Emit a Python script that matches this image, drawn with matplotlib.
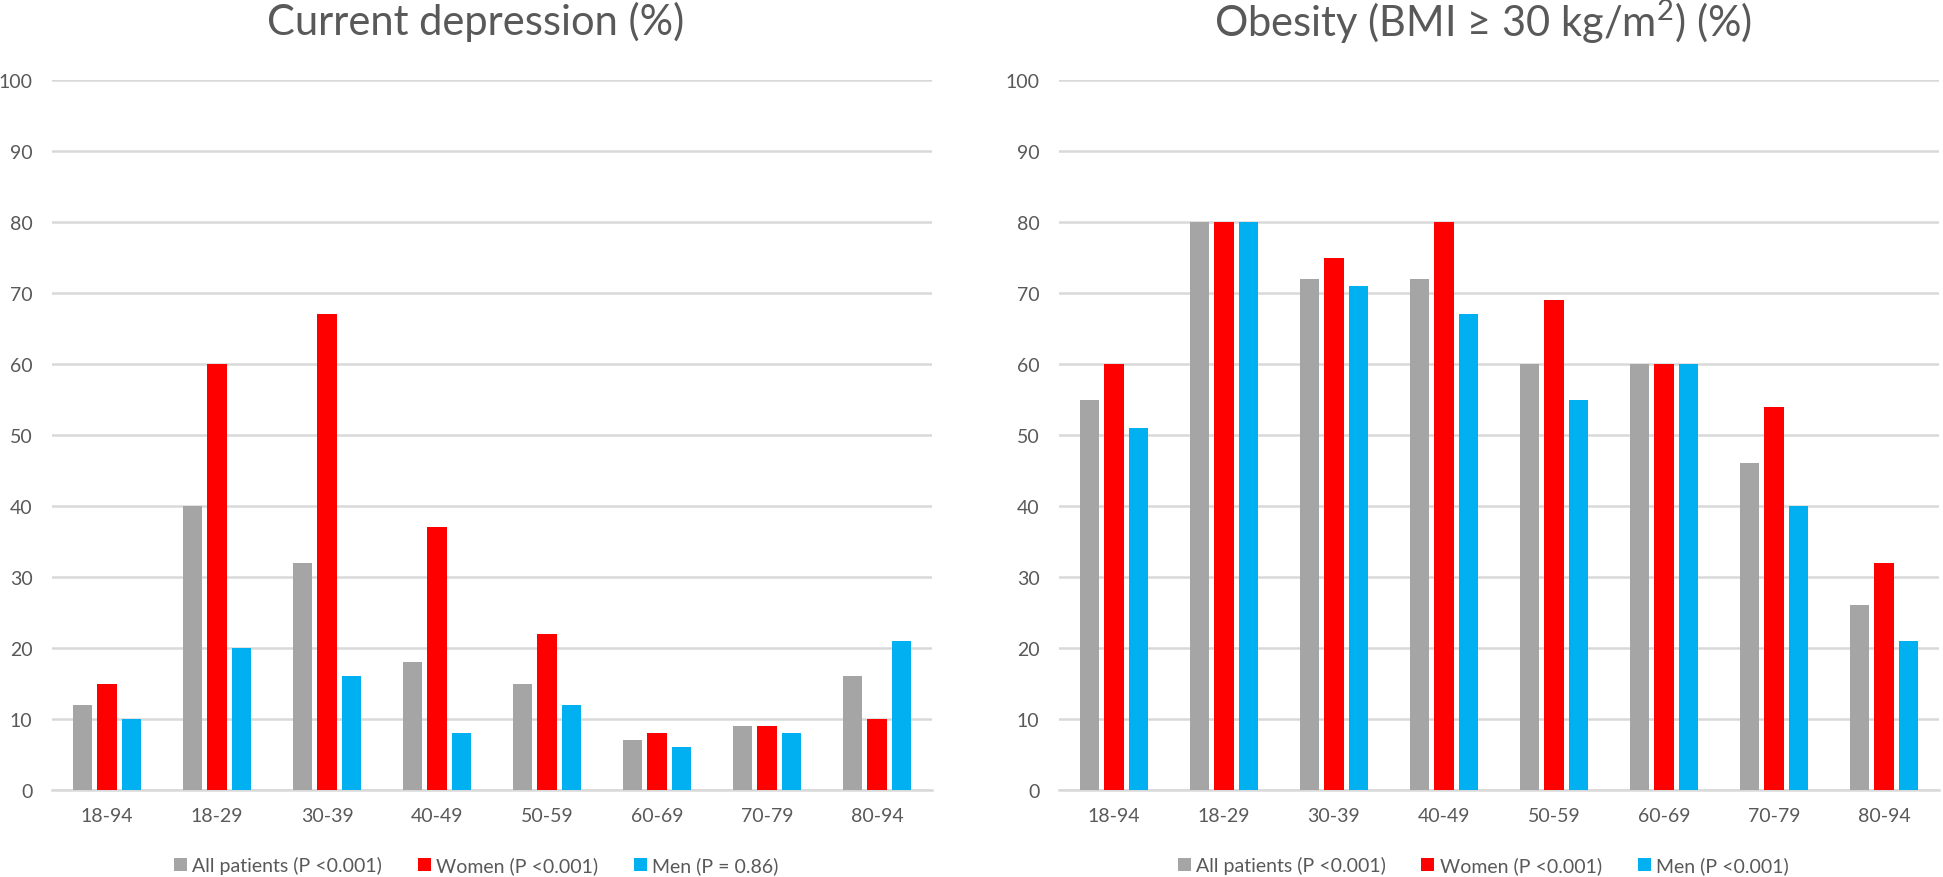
import matplotlib

matplotlib.use("Agg")
import matplotlib.pyplot as plt
import numpy as np
from matplotlib.patches import Patch

plt.rcParams["font.family"] = ["Lato", "DejaVu Sans"]
plt.rcParams["mathtext.fontset"] = "custom"
plt.rcParams["mathtext.rm"] = "Lato"

age_groups = ["18-94", "18-29", "30-39", "40-49", "50-59", "60-69", "70-79", "80-94"]

depression_all = [12, 40, 32, 18, 15, 7, 9, 16]
depression_women = [15, 60, 67, 37, 22, 8, 9, 10]
depression_men = [10, 20, 16, 8, 12, 6, 8, 21]
depression_legend = ["All patients (P <0.001)", "Women (P <0.001)", "Men (P = 0.86)"]

obesity_all = [55, 80, 72, 72, 60, 60, 46, 26]
obesity_women = [60, 80, 75, 80, 69, 60, 54, 32]
obesity_men = [51, 80, 71, 67, 55, 60, 40, 21]
obesity_legend = ["All patients (P <0.001)", "Women (P <0.001)", "Men (P <0.001)"]

COLORS = ["#A5A5A5", "#FF0000", "#00B0F0"]
TEXT = "#595959"
GRID = "#D9D9D9"

W, H = 1943, 878


def draw_panel(fig, ax, title, series, labels, center_x):
    x = np.arange(len(age_groups))
    width = 0.18
    step = 0.223
    for i, (vals, color) in enumerate(zip(series, COLORS)):
        ax.bar(x + (i - 1) * step, vals, width, color=color, zorder=3)

    ax.set_ylim(0, 100)
    ax.set_yticks(range(0, 101, 10))
    ax.set_xlim(-0.5, len(age_groups) - 0.5)
    ax.set_xticks(x)
    ax.set_xticklabels(age_groups)
    ax.grid(axis="y", color=GRID, linewidth=1.8, zorder=0)
    ax.tick_params(axis="both", length=0, labelsize=14, colors=TEXT)
    ax.tick_params(axis="x", pad=12)
    ax.tick_params(axis="y", pad=14)
    for side in ["top", "right", "left"]:
        ax.spines[side].set_visible(False)
    ax.spines["bottom"].set_color(GRID)
    ax.spines["bottom"].set_linewidth(1.8)

    fig.text(center_x / W, 1 - 22 / H, title, fontsize=30, color=TEXT,
             ha="center", va="center")

    handles = [Patch(facecolor=c, label=l) for c, l in zip(COLORS, labels)]
    fig.legend(
        handles=handles,
        loc="center",
        bbox_to_anchor=(center_x / W, 12 / H),
        ncol=3,
        frameon=False,
        fontsize=14,
        labelcolor=TEXT,
        handlelength=0.67,
        handleheight=0.67,
        handletextpad=0.26,
        columnspacing=1.85,
        borderpad=0.0,
    )


fig = plt.figure(figsize=(W / 100, H / 100), dpi=100)
ax1 = fig.add_axes([52 / W, (H - 791) / H, 880 / W, 710 / H])
ax2 = fig.add_axes([1059 / W, (H - 791) / H, 880 / W, 710 / H])

draw_panel(fig, ax1, "Current depression (%)",
           [depression_all, depression_women, depression_men], depression_legend, 476)
draw_panel(fig, ax2, r"Obesity (BMI ≥ 30 kg/m$^{2}$) (%)",
           [obesity_all, obesity_women, obesity_men], obesity_legend, 1483)

fig.savefig("out.png", dpi=100, facecolor="white")
